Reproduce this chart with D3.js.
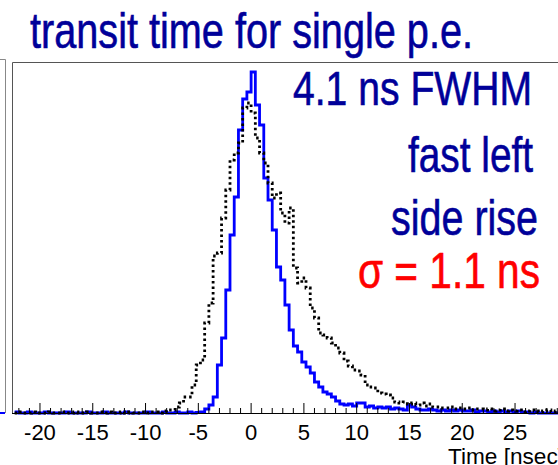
<html>
    <head>
        <script src="https://d3js.org/d3.v7.min.js"></script>
        <style>
            body { margin: 0; background: #fff; }
            text { font-family: "Liberation Sans", Arial, sans-serif; }
        </style>
    </head>
    <body>
        <svg id="p1" height="465" width="558"></svg>
        <script>
          // histogram binning: 0.4 ns bins starting at -22.4 ns
          const binStart = -22.4;
          const binWidth = 0.4;

          // single p.e. transit time, blue (fast rise) histogram, counts per bin
          const blueCounts = [
            10, 0, 0, 10, 0, 0, 0, 10, 0, 0,
            0, 0, 10, 0, 0, 0, 0, 10, 0, 0,
            0, 10, 0, 0, 0, 0, 10, 0, 0, 0,
            0, 10, 0, 0, 0, 10, 0, 0, 10, 0,
            0, 10, 0,
            5, 10, 40, 80, 160, 480, 750, 1230, 1780, 2160,
            2830, 3140, 3210, 3410, 3080, 2880, 2350, 2130, 1830, 1460,
            1330, 1080, 830, 670, 610, 510, 460, 400, 310, 260,
            210, 190, 160, 120, 90, 80, 90, 70, 100, 100,
            60, 70, 50, 60, 50, 60, 40, 50, 40, 30,
            80, 60, 40, 30, 30, 40, 30, 20, 30, 20,
            30, 20, 30, 20, 20, 30, 10, 20, 20, 10,
            20, 10, 20, 10, 20, 10, 20, 10, 10, 0,
            10, 0, 0, 0, 0, 0
          ];

          // reference histogram, black dotted
          const blackCounts = [
            0, 10, 0, 0, 10, 0, 0, 0, 10, 0,
            0, 10, 0, 0, 10, 0, 0, 10, 0, 0,
            10, 0, 10, 0, 0, 10, 0, 10, 0, 0,
            10, 0, 10,
            10, 0, 20, 30, 30, 60, 100, 160, 160, 280,
            480, 530, 900, 1100, 1570, 1600, 1950, 2230, 2530, 2600,
            2700, 3050, 3100, 3000, 2750, 2600, 2500, 2300, 2150, 2200,
            2000, 1900, 2050, 1450, 1300, 1350, 1250, 1050, 950, 800,
            780, 750, 700, 650, 600, 520, 470, 430, 420, 380,
            280, 260, 250, 200, 190, 180, 150, 110, 100, 110,
            90, 100, 80, 100, 70, 90, 60, 60, 50, 50,
            60, 40, 50, 40, 50, 30, 40, 40, 30, 40,
            20, 30, 40, 20, 30, 20, 30, 10, 20, 30,
            20, 10, 20, 30, 10, 20
          ];

          const majorTicks = [-20, -15, -10, -5, 0, 5, 10, 15, 20, 25];
          const minorTicks = d3.range(-22, 30, 1);

          const svg = d3.select("svg#p1");
          const frame = { left: 12, right: 558, top: 62, bottom: 413 };

          const xScale = d3.scaleLinear()
                          .domain([-22.65, 29.07])
                          .range([frame.left, frame.right]);
          const yScale = d3.scaleLinear()
                          .domain([0, 3510])
                          .range([frame.bottom, frame.top]);

          // remnant of the neighbouring pad on the left
          svg.append("path")
            .attr("d", `M0,59.5 H5.5 V${frame.bottom}`)
            .attr("fill", "none")
            .attr("stroke", "#888")
            .attr("stroke-width", 1);
          svg.append("line")
            .attr("x1", 0).attr("x2", 5)
            .attr("y1", frame.bottom).attr("y2", frame.bottom)
            .attr("stroke", "#0000ff")
            .attr("stroke-width", 2);

          // frame
          svg.append("path")
            .attr("d", `M${frame.left + 0.5},${frame.bottom} V${frame.top + 0.5} H${frame.right}`)
            .attr("fill", "none")
            .attr("stroke", "#555")
            .attr("stroke-width", 1);

          svg.append("defs").append("clipPath").attr("id", "clip")
            .append("rect")
            .attr("x", frame.left + 1).attr("y", frame.top)
            .attr("width", frame.right - frame.left).attr("height", frame.bottom - frame.top + 2);

          const stepPoints = counts => {
            let pts = counts.map((c, i) => [binStart + i * binWidth, c]);
            pts.push([binStart + counts.length * binWidth, counts[counts.length - 1]]);
            return pts;
          };
          const lineGen = d3.line()
                        .x(d => xScale(d[0]))
                        .y(d => yScale(d[1]))
                        .curve(d3.curveStepAfter);

          const plot = svg.append("g").attr("clip-path", "url(#clip)");
          plot.append("path")
            .datum(stepPoints(blueCounts))
            .attr("fill", "none")
            .attr("stroke", "#0000ff")
            .attr("stroke-width", 2.8)
            .attr("d", lineGen);
          plot.append("path")
            .datum(stepPoints(blackCounts))
            .attr("fill", "none")
            .attr("stroke", "#000")
            .attr("stroke-width", 2.8)
            .attr("stroke-dasharray", "2.5,3")
            .attr("d", lineGen);

          // x axis, ROOT style: ticks pointing up into the frame
          const axisG = svg.append("g");
          axisG.append("line")
            .attr("x1", frame.left).attr("x2", frame.right)
            .attr("y1", frame.bottom + 0.5).attr("y2", frame.bottom + 0.5)
            .attr("stroke", "#000");
          axisG.selectAll("line.minor").data(minorTicks.filter(t => !majorTicks.includes(t)))
            .join("line")
            .attr("class", "minor")
            .attr("x1", d => xScale(d)).attr("x2", d => xScale(d))
            .attr("y1", frame.bottom).attr("y2", frame.bottom - 5)
            .attr("stroke", "#000");
          axisG.selectAll("line.major").data(majorTicks)
            .join("line")
            .attr("class", "major")
            .attr("x1", d => xScale(d)).attr("x2", d => xScale(d))
            .attr("y1", frame.bottom).attr("y2", frame.bottom - 10)
            .attr("stroke", "#000");
          axisG.selectAll("text").data(majorTicks)
            .join("text")
            .attr("x", d => xScale(d))
            .attr("y", 440)
            .attr("text-anchor", "middle")
            .attr("font-size", 22)
            .attr("fill", "#000")
            .text(d => d);

          svg.append("text")
            .attr("x", 448)
            .attr("y", 464)
            .attr("font-size", 22)
            .attr("fill", "#000")
            .attr("textLength", 116)
            .attr("lengthAdjust", "spacingAndGlyphs")
            .text("Time [nsec]");

          // title and annotations
          const navy = "#000099";
          const labels = [
            { t: "transit time for single p.e.", x: 30, y: 48, w: 443, s: 50, c: navy },
            { t: "4.1 ns FWHM", x: 293, y: 105, w: 239, s: 49, c: navy },
            { t: "fast left", x: 408, y: 172, w: 125, s: 50, c: navy },
            { t: "side rise", x: 391, y: 235, w: 147, s: 50, c: navy },
            { t: "σ = 1.1 ns", x: 358, y: 288, w: 182, s: 50, c: "#ff0000" }
          ];
          svg.selectAll("text.lab").data(labels)
            .join("text")
            .attr("class", "lab")
            .attr("x", d => d.x)
            .attr("y", d => d.y)
            .attr("font-size", d => d.s)
            .attr("fill", d => d.c)
            .attr("stroke", d => d.c)
            .attr("stroke-width", 0.6)
            .attr("textLength", d => d.w)
            .attr("lengthAdjust", "spacingAndGlyphs")
            .text(d => d.t);
        </script>
    </body>
</html>
